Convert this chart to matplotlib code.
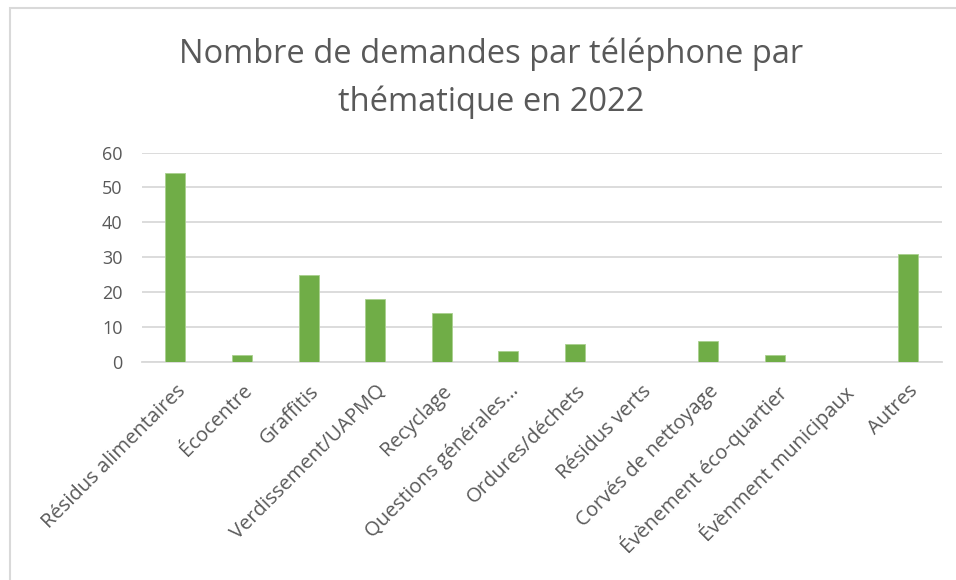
import numpy as np
import matplotlib.pyplot as plt
from matplotlib.patches import Rectangle

categories = ["Résidus alimentaires", "Écocentre", "Graffitis", "Verdissement/UAPMQ",
              "Recyclage", "Questions générales...", "Ordures/déchets", "Résidus verts",
              "Corvés de nettoyage", "Évènement éco-quartier", "Évènment municipaux", "Autres"]
values = [54, 2, 25, 18, 14, 3, 5, 0, 6, 2, 0, 31]
yticks = [0, 10, 20, 30, 40, 50, 60]

plt.rcParams['font.family'] = ['Open Sans', 'DejaVu Sans']
gray = '#595959'

fig = plt.figure(figsize=(9.56, 5.8), dpi=100)
ax = fig.add_axes([0.1485, 0.3764, 0.8365, 0.3606])

x = np.arange(len(categories))
ax.bar(x, values, width=0.3, color='#70AD47', edgecolor='#A9D08E', linewidth=0.6, zorder=3)

ax.set_xlim(-0.5, len(categories) - 0.5)
ax.set_ylim(0, 60)
ax.set_yticks(yticks)
ax.yaxis.grid(True, color='#D9D9D9', linewidth=1.3, zorder=0)
ax.tick_params(axis='y', length=0, labelsize=13, labelcolor=gray, pad=14)
ax.tick_params(axis='x', length=0, labelsize=14.5, labelcolor=gray, pad=14)
ax.set_xticks(x)
ax.set_xticklabels(categories, rotation=45, ha='right', rotation_mode='anchor')
for s in ['top', 'right', 'left']:
    ax.spines[s].set_visible(False)
ax.spines['bottom'].set_color('#D9D9D9')
ax.spines['bottom'].set_linewidth(1.3)

# titre sur deux lignes
fig.text(0.514, 1 - 63 / 580, "Nombre de demandes par téléphone par",
         ha='center', va='baseline', fontsize=23.5, color=gray)
fig.text(0.514, 1 - 111 / 580, "thématique en 2022",
         ha='center', va='baseline', fontsize=23.5, color=gray)

# cadre du graphique
fig.patches.append(Rectangle((10 / 956, -0.1), 1.1, 1 - 8 / 580 + 0.1,
                             transform=fig.transFigure, fill=False,
                             edgecolor='#D9D9D9', linewidth=1.5))

fig.savefig('out.png', dpi=100)
